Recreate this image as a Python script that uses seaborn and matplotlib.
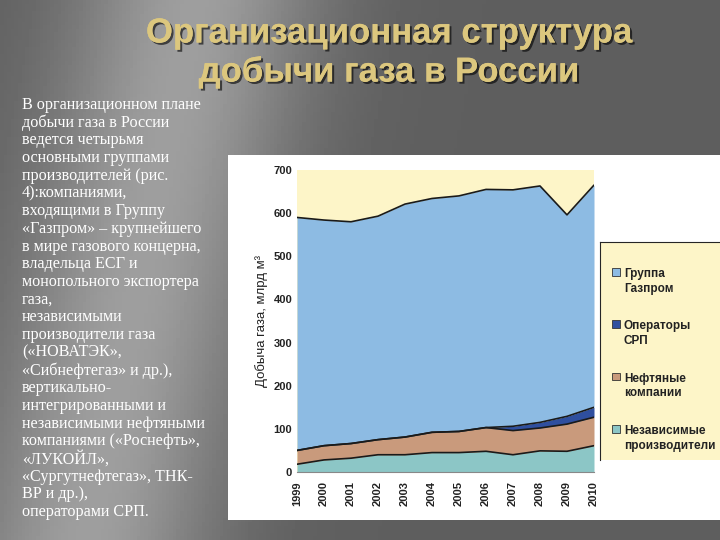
import numpy as np
import matplotlib
matplotlib.use("Agg")
import matplotlib.pyplot as plt
import matplotlib.patheffects as pe
import seaborn as sns
import pandas as pd

years = [1999, 2000, 2001, 2002, 2003, 2004, 2005, 2006, 2007, 2008, 2009, 2010]
independent = [18, 28, 32, 40, 40, 45, 45, 48, 40, 49, 48, 61]
oil = [32, 33, 34, 35, 41, 47, 49, 55, 56, 53, 63, 66]
srp = [0, 0, 0, 0, 0, 0, 0, 0, 10, 13, 18, 23]
gazprom = [540, 523, 514, 518, 540, 542, 546, 552, 548, 548, 467, 515]
series_names = ["Группа\nГазпром", "Операторы\nСРП", "Нефтяные\nкомпании", "Независимые\nпроизводители"]
colors = ["#8dbbe3", "#2f4f9f", "#c99a7c", "#8cc6c6"]

sns.set_style("white")
plt.rcParams['font.family'] = ['Liberation Sans', 'DejaVu Sans']

fig = plt.figure(figsize=(7.2, 5.4), dpi=100)
bg = fig.add_axes([0, 0, 1, 1])
xx = np.linspace(0, 1, 200)
yy = np.linspace(0, 1, 150)
X, Y = np.meshgrid(xx, yy)
val = 0.37 + 0.25 * np.exp(-((X - 0.12 - 0.15 * (1 - Y)) ** 2) / 0.03)
bg.imshow(val, cmap="gray", vmin=0, vmax=1, extent=[0, 1, 0, 1], aspect="auto", origin="upper")
bg.set_axis_off()

shadow = [pe.withSimplePatchShadow(offset=(1.5, -1.5), shadow_rgbFace="black", alpha=0.6), pe.Normal()]
fig.text(0.54, 1 - 33 / 540, "Организационная структура", ha="center", va="center", fontsize=25,
         fontweight="bold", color="#dcc77e", path_effects=shadow)
fig.text(0.54, 1 - 72 / 540, "добычи газа в России", ha="center", va="center", fontsize=25,
         fontweight="bold", color="#dcc77e", path_effects=shadow)

lines = ["В организационном плане", "добычи газа в России", "ведется четырьмя", "основными группами",
         "производителей (рис.", "4):компаниями,", "входящими в Группу", "«Газпром» – крупнейшего",
         "в мире газового концерна,", "владельца ЕСГ и", "монопольного экспортера", "газа,",
         "независимыми", "производители газа", "(«НОВАТЭК»,", "«Сибнефтегаз» и др.),",
         "вертикально-", "интегрированными и", "независимыми нефтяными", "компаниями («Роснефть»,",
         "«ЛУКОЙЛ»,", "«Сургутнефтегаз», ТНК-", "ВР и др.),", "операторами СРП."]
for i, t in enumerate(lines):
    fig.text(22 / 720, 1 - (105 + i * 17.7) / 540, t, ha="left", va="center", fontsize=11.6,
             color="white", family=["Liberation Serif", "DejaVu Serif"])

panel = fig.add_axes([228 / 720, 20 / 540, 492 / 720, 365 / 540])
panel.set_facecolor("white")
panel.set_xticks([]); panel.set_yticks([])
for s in panel.spines.values():
    s.set_visible(False)

ax = fig.add_axes([297 / 720, 68 / 540, 297 / 720, 302 / 540])
ax.set_facecolor("#fdf5c8")
ax.stackplot(years, independent, oil, srp, gazprom,
             colors=[colors[3], colors[2], colors[1], colors[0]], linewidth=0)
cum = np.cumsum(np.array([independent, oil, srp, gazprom]), axis=0)
for row in cum:
    sns.lineplot(x=years, y=row, ax=ax, color="#1a1a1a", linewidth=1.2)
ax.set_xlim(1999, 2010)
ax.set_ylim(0, 700)
ax.set_yticks(range(0, 701, 100))
ax.set_xticks(years)
ax.set_xticklabels([str(y) for y in years], rotation=90, fontsize=8)
ax.tick_params(axis="y", labelsize=8, length=0)
ax.tick_params(axis="x", length=3)
for lab in ax.get_yticklabels() + ax.get_xticklabels():
    lab.set_fontweight("bold")
    lab.set_color("#222222")
ax.set_ylabel("Добыча газа, млрд м³", fontsize=9.5, color="#222222")
for s in ax.spines.values():
    s.set_visible(False)
ax.spines["bottom"].set_visible(True)
ax.spines["bottom"].set_color("#888888")

leg = fig.add_axes([600 / 720, 80 / 540, 120 / 720, 218 / 540])
leg.set_facecolor("#fdf5c8")
leg.set_xticks([]); leg.set_yticks([])
leg.set_xlim(0, 1); leg.set_ylim(0, 1)
for s in leg.spines.values():
    s.set_visible(False)
leg.spines["left"].set_visible(True)
leg.spines["top"].set_visible(True)
for i, (name, c) in enumerate(zip(series_names, colors)):
    y = 0.86 - i * 0.24
    leg.add_patch(plt.Rectangle((0.1, y - 0.015), 0.07, 0.035, facecolor=c, edgecolor="#333333", lw=0.6))
    leg.text(0.2, y + 0.02, name, va="top", ha="left", fontsize=8.5, fontweight="bold", color="#222222",
             linespacing=1.3, transform=leg.transData)

fig.savefig("out.png", dpi=100)
